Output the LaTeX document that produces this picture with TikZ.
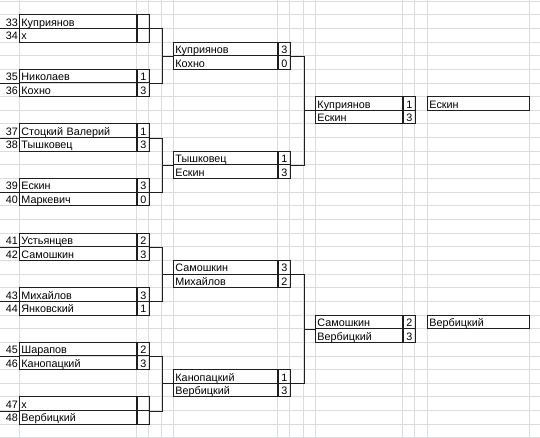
\documentclass[tikz,border=0pt]{standalone}
\usepackage{fontspec}
\setmainfont{Liberation Sans}
\usepackage{xcolor}
\usepackage{tikz}
\usetikzlibrary{calc}
\definecolor{gridc}{HTML}{DADCDE}
\definecolor{ink}{HTML}{1E1E1E}
\tikzset{cell/.style={draw=ink,line width=0.9pt,inner ysep=0pt,minimum height=13.65pt,text height=9.6pt,text depth=0.3pt,font=\fontsize{10.8}{12}\selectfont,anchor=west},
nm/.style={cell,inner xsep=2pt,text width=#1,align=left},
sc/.style={cell,inner xsep=0pt,minimum width=12pt},
num/.style={inner sep=0pt,text height=9.6pt,text depth=0.3pt,font=\fontsize{10.8}{12}\selectfont,anchor=east},
wire/.style={draw=ink,line width=0.9pt}}

\begin{document}
\begin{tikzpicture}[x=1pt,y=-1pt]
\useasboundingbox (0,0) rectangle (540,437);
\foreach \k in {0,...,32} \draw[gridc,line width=0.8pt] (0,{1+13.65*\k}) -- (540,{1+13.65*\k});
\foreach \x in {19,136,148,161,173,277,289,303,315,402,414,427,529} \draw[gridc,line width=0.8pt] (\x,0) -- (\x,437);
\foreach \r/\n/\nm/\s [count=\i] in {1/33/Куприянов/{},2/34/x/{},5/35/Николаев/1,6/36/Кохно/3,9/37/Стоцкий Валерий/1,10/38/Тышковец/3,13/39/Ескин/3,14/40/Маркевич/0,17/41/Устьянцев/2,18/42/Самошкин/3,21/43/Михайлов/3,22/44/Янковский/1,25/45/Шарапов/2,26/46/Канопацкий/3,29/47/x/{},30/48/Вербицкий/{}}{%
  \node[num] (num\i) at (18,{1+13.65*(\r+0.5)}) {\n};
  \node[nm=113pt] (r1n\i) at (19,{1+13.65*(\r+0.5)}) {\nm};
  \node[sc] (r1s\i) at (r1n\i.east) {\s};}
\foreach \r/\nm/\s [count=\i] in {3/Куприянов/3,4/Кохно/0,11/Тышковец/1,12/Ескин/3,19/Самошкин/3,20/Михайлов/2,27/Канопацкий/1,28/Вербицкий/3}{%
  \node[nm=100pt] (r2n\i) at (173,{1+13.65*(\r+0.5)}) {\nm};
  \node[sc] (r2s\i) at (r2n\i.east) {\s};}
\foreach \r/\nm/\s [count=\i] in {7/Куприянов/1,8/Ескин/3,23/Самошкин/2,24/Вербицкий/3}{%
  \node[nm=83pt] (r3n\i) at (315,{1+13.65*(\r+0.5)}) {\nm};
  \node[sc] (r3s\i) at (r3n\i.east) {\s};}
\node[nm=98pt] (w1) at (427,{1+13.65*7.5}) {Ескин};
\node[nm=98pt] (w2) at (427,{1+13.65*23.5}) {Вербицкий};
\foreach \i in {1,3,...,15} \draw[wire] (r1n\i.south west) -- ++(-19,0);
\foreach \k in {1,...,4}{%
  \pgfmathtruncatemacro{\ta}{4*\k-3}\pgfmathtruncatemacro{\tb}{4*\k-1}\pgfmathtruncatemacro{\tc}{2*\k-1}
  \draw[wire] (r1s\ta.south east) -- ++(13,0) coordinate (j\k) |- (r1s\tb.south east);
  \draw[wire] (j\k |- r2n\tc.south west) -- (r2n\tc.south west);}
\foreach \k in {1,2}{%
  \pgfmathtruncatemacro{\ta}{4*\k-3}\pgfmathtruncatemacro{\tb}{4*\k-1}\pgfmathtruncatemacro{\tc}{2*\k-1}
  \draw[wire] (r2s\ta.south east) -- ++(14,0) coordinate (h\k) |- (r2s\tb.south east);
  \draw[wire] (h\k |- r3n\tc.south west) -- (r3n\tc.south west);}
\end{tikzpicture}
\end{document}
